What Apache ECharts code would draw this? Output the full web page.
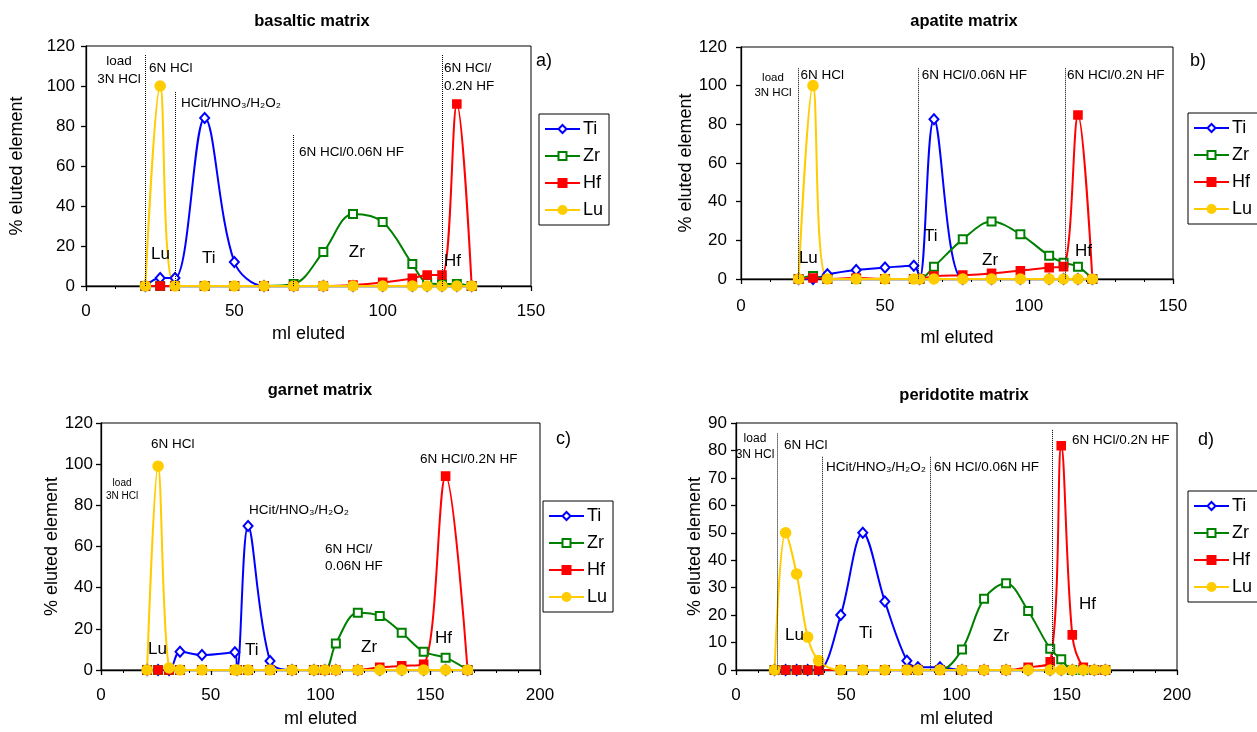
<!DOCTYPE html>
<html><head><meta charset="utf-8">
<script src="https://cdn.jsdelivr.net/npm/echarts@6/dist/echarts.min.js"></script>
<style>html,body{margin:0;padding:0;background:#fff}#c{width:1257px;height:732px}</style>
</head><body><div id="c"></div>
<script>
// ---------- DATA ----------
// a) basaltic matrix
const a_ml = [20,25,30,40,50,60,70,80,90,100,110,115,120,125,130];
const a_Ti = [0,4,4,84,12,0,0,0,0,0,0,0,0,0,0];
const a_Zr = [0,0,0,0,0,0,1,17,36,32,11,1.5,1,1,0];
const a_Hf = [0,0,0,0,0,0,0,0,0.5,1.8,3.8,5.5,5.5,91,0];
const a_Lu = [0,100,0,0,0,0,0,0,0,0,0,0,0,0,0];
// b) apatite matrix
const b_ml = [20,25,30,40,50,60,62,67,77,87,97,107,112,117,122];
const b_Ti = [0,0,2.4,4.7,5.9,6.9,0,82.6,0,0,0,0,0,0,0];
const b_Zr = [0,1.5,0,0,0,0,0,6.4,20.5,29.7,23.1,12,8.4,6.4,0];
const b_Hf = [0,0.5,0,0.5,0,0,0,1.5,2,2.9,4.3,5.9,6.4,84.8,0];
const b_Lu = [0,100,0,0,0,0,0,0,0,0,0,0,0,0,0];
// c) garnet matrix
const c_ml = [21,26,31,36,46,61,62,67,77,87,97,102,107,117,127,137,147,157,167];
const c_Ti = [0,0,0,8.9,7.3,8.6,0,70,4.4,0,0,0,0,0,0,0,0,0,0];
const c_Zr = [0,0,0,0,0,0,0,0,0,0,0,0,12.9,27.8,26.2,18.1,8.9,6,0];
const c_Hf = [0,0,0,0,0,0,0,0,0,0,0,0,0,0,1.3,2,2.8,94.2,0];
const c_Lu = [0,99,1,0,0,0,0,0,0,0,0,0,0,0,0,0,0,0,0];
// d) peridotite matrix
const d_ml = [17.5,22.5,27.5,32.5,37.5,47.5,57.5,67.5,77.5,82.5,92.5,102.5,112.5,122.5,132.5,142.5,147.5,152.5,157.5,162.5,167.5];
const d_Ti = [0,0,0,0,0,20,50,25,3.4,1,1,0,0,0,0,0,0,0,0,0,0];
const d_Zr = [0,0,0,0,0,0,0,0,0,0,0,7.5,26,31.6,21.5,7.7,3.9,0,0,0,0];
const d_Hf = [0,0,0,0,0,0,0,0,0,0,0,0,0,0,1,3,81.7,12.8,1,0,0];
const d_Lu = [0,50,35,12,3.4,0,0,0,0,0,0,0,0,0,0,0,0,0,0,0,0];

const titles = ['basaltic matrix','apatite matrix','garnet matrix','peridotite matrix'];
const panelTags = ['a)','b)','c)','d)'];
const xMax = [150,150,200,200];
const yMax = [120,120,120,90];
const yStep = [20,20,20,10];
const elements = ['Ti','Zr','Hf','Lu'];

// separators: [ml, top value] per panel
const seps = [
  [[20,115.5],[30,97],[70,75.5],[120,115.5]],
  [[20,109],[61.5,109],[112.5,109]],
  [[20,115],[60,89.5],[100,64.4],[144,113]],
  [[18.7,86.2],[39.3,77.7],[88.3,77.7],[143.6,87.5]]
];
// eluent annotation texts: [text, ml, value, fontSize, align]
const notes = [
  [['load\n3N HCl',11.1,116.5,13.5,'center'],['6N HCl',21.2,113,13.5,'left'],['HCit/HNO₃/H₂O₂',32,95.5,13.5,'left'],['6N HCl/0.06N HF',71.8,71,13.5,'left'],['6N HCl/\n0.2N HF',120.7,113,13.5,'left']],
  [['load\n3N HCl',11.1,108,11.5,'center'],['6N HCl',20.7,110,13.5,'left'],['6N HCl/0.06N HF',62.8,110,13.5,'left'],['6N HCl/0.2N HF',113.2,110,13.5,'left']],
  [['load\n3N HCl',9.6,94,10,'center'],['6N HCl',22.8,114,13.5,'left'],['HCit/HNO₃/H₂O₂',67.4,82,13.5,'left'],['6N HCl/\n0.06N HF',102,63,13.5,'left'],['6N HCl/0.2N HF',145.3,106.8,13.5,'left']],
  [['load\n3N HCl',8.6,87,12,'center'],['6N HCl',21.8,85,13.5,'left'],['HCit/HNO₃/H₂O₂',40.8,76.9,13.5,'left'],['6N HCl/0.06N HF',89.8,76.9,13.5,'left'],['6N HCl/0.2N HF',152.4,87,13.5,'left']]
];
// element peak labels: [text, ml, value]
const peakLabels = [
  [['Lu',21.9,20],['Ti',39.1,18],['Zr',88.6,21],['Hf',120.7,16.5]],
  [['Lu',20.1,15],['Ti',63.5,26.4],['Zr',83.7,14],['Hf',116,18.6]],
  [['Lu',21.4,14],['Ti',65.6,13.6],['Zr',118.5,15],['Hf',152.2,19.4]],
  [['Lu',22.2,15.7],['Ti',55.8,16.4],['Zr',116.6,15.3],['Hf',155.6,27]]
];

// ---------- LAYOUT / STYLE ----------
const FONT = "'Liberation Sans', Arial, sans-serif";
const grids = [
  {left:86, top:46, width:445, height:240},
  {left:741, top:47, width:432, height:232},
  {left:101, top:423, width:439, height:247},
  {left:736, top:423, width:441, height:247}
];
const titlePos = [[307,8],[959,8],[315,377],[959,382]];
const tagPos = [[531,47],[1185,47],[551,425],[1193,426]];
const yNameGap = [60,33,40,27];
const yLabelMargin = [11,14,8,9];
const xLabelMargin = [17,19,17,17];
const xNameGap = [39,50,40,40];
const legendPos = [[539,114],[1188,113],[543,501],[1188,491]];
const style = {
  Ti:{color:'#0000FF', symbol:'emptyDiamond', size:[9,10]},
  Zr:{color:'#008000', symbol:'emptyRect', size:8},
  Hf:{color:'#FF0000', symbol:'rect', size:8},
  Lu:{color:'#FFCC00', symbol:'circle', size:10}
};
const panels = [
  {ml:a_ml, Ti:a_Ti, Zr:a_Zr, Hf:a_Hf, Lu:a_Lu},
  {ml:b_ml, Ti:b_Ti, Zr:b_Zr, Hf:b_Hf, Lu:b_Lu},
  {ml:c_ml, Ti:c_Ti, Zr:c_Zr, Hf:c_Hf, Lu:c_Lu},
  {ml:d_ml, Ti:d_Ti, Zr:d_Zr, Hf:d_Hf, Lu:d_Lu}
];

const option = {
  animation:false,
  backgroundColor:'#fff',
  textStyle:{fontFamily:FONT, color:'#000'},
  title:[], grid:[], xAxis:[], yAxis:[], legend:[], series:[]
};

panels.forEach((p,g)=>{
  option.title.push({text:titles[g], left:titlePos[g][0], top:titlePos[g][1], textAlign:'center',
    textStyle:{fontFamily:FONT, fontSize:16.5, fontWeight:'bold', color:'#000'}});
  option.title.push({text:panelTags[g], left:tagPos[g][0], top:tagPos[g][1],
    textStyle:{fontFamily:FONT, fontSize:18, fontWeight:'normal', color:'#000'}});
  option.grid.push(Object.assign({show:true, borderColor:'#000', borderWidth:1, backgroundColor:'transparent', containLabel:false}, grids[g]));
  option.xAxis.push({type:'value', gridIndex:g, min:0, max:xMax[g], interval:50,
    name:'ml eluted', nameLocation:'middle', nameGap:xNameGap[g],
    nameTextStyle:{fontFamily:FONT, fontSize:18, color:'#000', verticalAlign:'top'},
    axisLine:{show:true, onZero:false, lineStyle:{color:'#000', width:1.3}},
    axisTick:{show:true, inside:false, length:5, lineStyle:{color:'#000', width:1.3}},
    minorTick:{show:true, splitNumber:5, length:3, lineStyle:{color:'#000'}},
    axisLabel:{fontFamily:FONT, fontSize:17, color:'#000', margin:xLabelMargin[g]},
    splitLine:{show:false}});
  option.yAxis.push({type:'value', gridIndex:g, min:0, max:yMax[g], interval:yStep[g],
    name:'% eluted element', nameLocation:'middle', nameGap:yNameGap[g], nameRotate:90,
    nameTextStyle:{fontFamily:FONT, fontSize:18, color:'#000'},
    axisLine:{show:true, onZero:false, lineStyle:{color:'#000', width:1.3}},
    axisTick:{show:true, inside:false, length:5, lineStyle:{color:'#000', width:1.3}},
    axisLabel:{fontFamily:FONT, fontSize:17, color:'#000', margin:yLabelMargin[g]},
    splitLine:{show:false}});
  option.legend.push({left:legendPos[g][0], top:legendPos[g][1], orient:'vertical',
    data:elements, itemWidth:35, itemHeight:10, itemGap:9, padding:[6,6,6,5],
    borderColor:'#000', borderWidth:1, backgroundColor:'#fff', selectedMode:false,
    textStyle:{fontFamily:FONT, fontSize:18, color:'#000', padding:[0,0,0,-2]}});
  elements.forEach(el=>{
    const s = style[el];
    option.series.push({name:el, type:'line', xAxisIndex:g, yAxisIndex:g,
      data:p.ml.map((x,i)=>[x,p[el][i]]), smooth:0.35,
      symbol:s.symbol, symbolSize:s.size, showAllSymbol:true, clip:false,
      lineStyle:{color:s.color, width:2},
      itemStyle:{color:s.color, borderColor:s.color, borderWidth:1.6},
      emphasis:{disabled:true}});
  });
  // separators and annotations
  option.series.push({name:'notes'+g, type:'line', xAxisIndex:g, yAxisIndex:g, data:[], silent:true,
    markLine:{silent:true, symbol:['none','none'], label:{show:false},
      lineStyle:{type:'dotted', color:'#000', width:1},
      data: seps[g].map(s=>[{coord:[s[0],s[1]]},{coord:[s[0], g===2?-4:0]}])},
    markPoint:{silent:true, data:
      notes[g].map(n=>({coord:[n[1],n[2]], symbol:'rect', symbolSize:0,
        label:{show:true, position:[0,0], formatter:n[0], align:n[4], verticalAlign:'top',
          fontFamily:FONT, fontSize:n[3], color:'#000', lineHeight:n[3]*1.3}}))
      .concat(peakLabels[g].map(n=>({coord:[n[1],n[2]], symbol:'rect', symbolSize:0,
        label:{show:true, position:[0,0], formatter:n[0], align:'left', verticalAlign:'top',
          fontFamily:FONT, fontSize:17, color:'#000'}})))
    }});
});

const chart = echarts.init(document.getElementById('c'), null, {renderer:'canvas'});
chart.setOption(option);
</script></body></html>
